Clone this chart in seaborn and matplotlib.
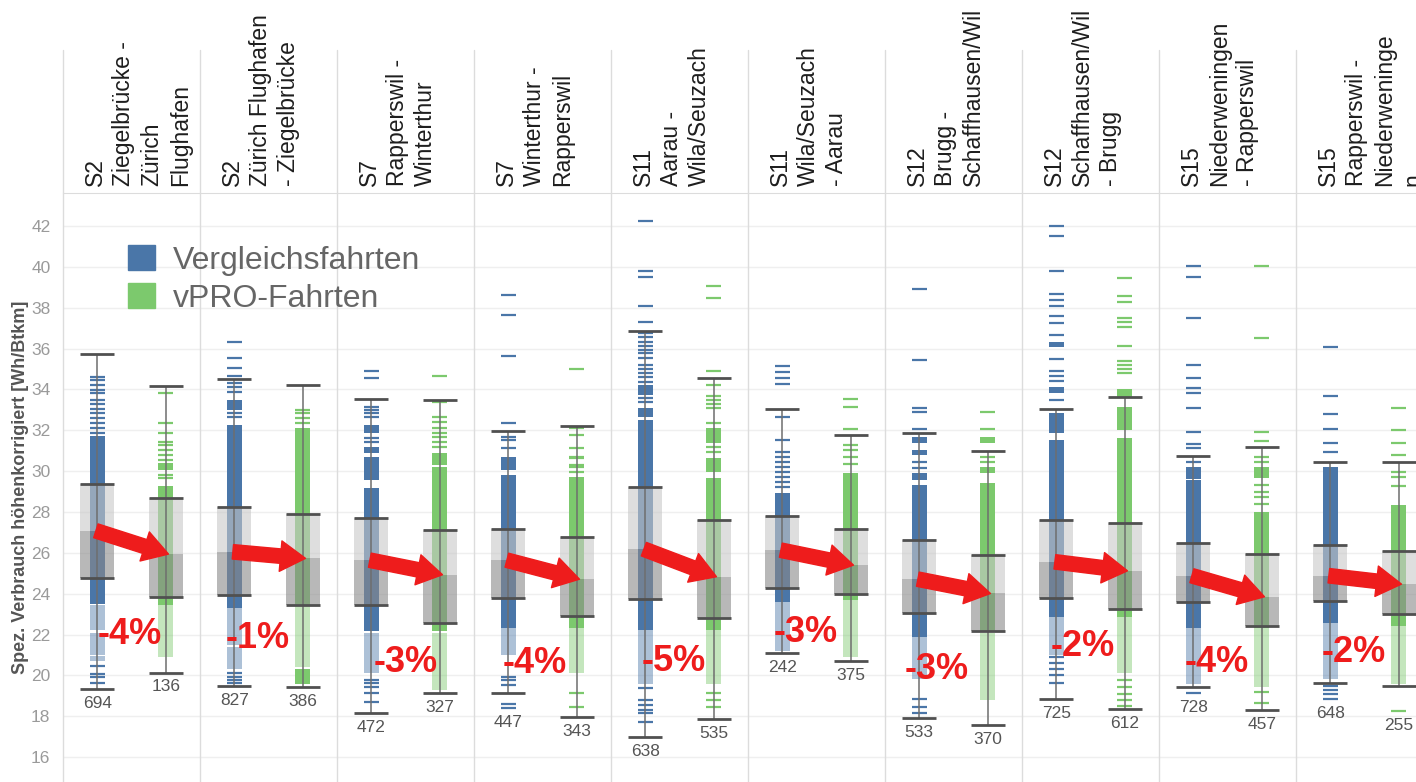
import pandas as pd
import seaborn as sns
import matplotlib.pyplot as plt
from matplotlib.patches import Patch

# Strecken (Spaltenköpfe)
strecken = [
    "S2\nZiegelbrücke -\nZürich\nFlughafen",
    "S2\nZürich Flughafen\n- Ziegelbrücke",
    "S7\nRapperswil -\nWinterthur",
    "S7\nWinterthur -\nRapperswil",
    "S11\nAarau -\nWila/Seuzach",
    "S11\nWila/Seuzach\n- Aarau",
    "S12\nBrugg -\nSchaffhausen/Wil",
    "S12\nSchaffhausen/Wil\n- Brugg",
    "S15\nNiederweningen\n- Rapperswil",
    "S15\nRapperswil -\nNiederweninge\nn",
]
prozent = ["-4%", "-1%", "-3%", "-4%", "-5%", "-3%", "-3%", "-2%", "-4%", "-2%"]

# Vergleichsfahrten: Boxplot-Kennwerte
blau_min = [19.34, 19.47, 18.17, 19.13, 16.99, 21.10, 17.89, 18.85, 19.44, 19.65]
blau_q1 = [24.78, 23.95, 23.47, 23.77, 23.73, 24.26, 23.06, 23.77, 23.61, 23.65]
blau_med = [27.08, 26.05, 25.64, 25.64, 26.18, 26.13, 24.71, 25.56, 24.88, 24.88]
blau_q3 = [29.37, 28.24, 27.69, 27.19, 29.22, 27.80, 26.61, 27.60, 26.46, 26.38]
blau_max = [35.73, 34.49, 33.51, 31.95, 36.86, 33.02, 31.85, 33.04, 30.74, 30.43]
blau_n = [694, 827, 472, 447, 638, 242, 533, 725, 728, 648]

# vPRO-Fahrten: Boxplot-Kennwerte
gruen_min = [20.14, 19.41, 19.15, 17.95, 17.86, 20.71, 17.56, 18.33, 18.30, 19.47]
gruen_q1 = [23.85, 23.45, 22.57, 22.90, 22.83, 23.98, 22.18, 23.24, 22.41, 23.03]
gruen_med = [25.94, 25.73, 24.93, 24.71, 24.83, 25.40, 24.01, 25.12, 23.85, 24.47]
gruen_q3 = [28.68, 27.88, 27.11, 26.77, 27.60, 27.18, 25.89, 27.44, 25.94, 26.10]
gruen_max = [34.18, 34.23, 33.48, 32.21, 34.57, 31.77, 30.97, 33.61, 31.20, 30.43]
gruen_n = [136, 386, 327, 343, 535, 375, 370, 612, 457, 255]

# Einzelfahrten: dichte Bereiche (von, bis), blasse Bereiche, einzelne Striche
blau_dicht = [
    [(23.5, 31.7)],
    [(23.3, 32.26), (33.0, 33.48)],
    [(22.15, 29.2), (29.56, 30.71), (30.88, 31.2), (31.85, 32.26)],
    [(22.3, 29.81), (30.05, 30.70)],
    [(22.2, 32.5), (32.66, 33.07), (33.73, 34.21)],
    [(23.6, 28.92)],
    [(21.9, 29.32), (29.56, 29.9), (30.79, 31.03), (31.36, 31.68)],
    [(22.87, 31.52), (31.85, 32.83), (33.81, 34.13), (36.09, 36.33)],
    [(22.3, 29.56), (29.6, 30.22)],
    [(22.55, 30.22)],
]
blau_blass = [
    [(22.2, 23.45), (21.0, 22.1), (20.7, 20.95)],
    [(21.5, 23.3), (20.3, 21.4)],
    [(20.1, 22.1)],
    [(21.0, 22.3)],
    [(19.6, 22.2)],
    [(21.2, 23.6)],
    [(19.8, 21.9)],
    [(21.0, 22.87)],
    [(19.6, 22.3)],
    [(19.8, 22.55)],
]
blau_striche = [
    [34.59, 34.46, 34.21, 33.97, 33.81, 33.48, 33.28, 33.02, 32.83, 32.58, 32.34, 32.10, 31.88,
     20.45, 20.09, 19.91, 19.61],
    [36.33, 35.52, 35.06, 34.65, 34.30, 34.13, 33.86, 32.83, 32.64, 20.13, 19.94, 19.77, 19.61],
    [34.90, 34.54, 33.15, 32.99, 32.83, 32.64, 31.60, 31.44, 19.77, 19.61, 19.44, 19.12, 18.71],
    [38.64, 37.66, 35.63, 32.34, 31.68, 31.53, 31.12, 19.93, 19.77, 19.52, 18.60, 18.41],
    [42.24, 39.81, 39.52, 38.10, 37.30, 36.75, 36.59, 36.34, 36.15, 35.93, 35.77, 35.52, 35.19,
     34.98, 34.82, 34.62, 34.37, 33.56, 33.40, 19.37, 18.80, 18.55, 18.30, 18.14, 17.73],
    [35.16, 34.86, 34.57, 34.28, 32.64, 31.52, 30.95, 30.71, 30.46, 30.22, 29.98, 29.73, 29.49, 29.24],
    [38.90, 35.42, 33.10, 32.91, 32.04, 30.46, 30.14, 18.86, 18.47, 18.14],
    [42.00, 41.51, 39.80, 38.67, 38.38, 38.08, 37.59, 37.24, 36.65, 35.47, 34.91, 34.66, 34.41,
     33.48, 20.90, 20.60, 20.30, 20.00, 19.64],
    [40.04, 39.52, 37.49, 35.19, 34.57, 34.08, 33.84, 33.07, 31.90, 31.32, 31.13, 30.46, 19.12],
    [36.09, 33.66, 32.78, 32.04, 31.36, 30.95, 19.47, 19.30, 19.10, 18.82],
]

gruen_dicht = [
    [(23.45, 29.27), (30.05, 30.38)],
    [(23.45, 32.1), (19.6, 20.3)],
    [(22.15, 30.22), (30.3, 30.88)],
    [(22.3, 29.7)],
    [(22.2, 29.65), (29.98, 30.63), (31.36, 32.10)],
    [(23.7, 29.9)],
    [(22.15, 29.4), (29.9, 30.22), (31.36, 31.68)],
    [(22.87, 31.6), (32.01, 33.15), (33.64, 34.02)],
    [(22.3, 28.0), (29.65, 30.22)],
    [(22.4, 28.34)],
]
gruen_blass = [
    [(20.9, 23.45)],
    [(20.4, 23.4)],
    [(19.3, 22.1)],
    [(20.1, 22.3)],
    [(19.6, 22.2)],
    [(20.9, 23.7)],
    [(18.8, 22.1)],
    [(20.1, 22.87)],
    [(19.45, 22.3)],
    [(19.6, 22.4)],
]
gruen_striche = [
    [33.81, 32.38, 31.85, 31.44, 31.28, 31.03, 30.79, 30.54, 29.81, 29.66],
    [32.99, 32.83, 32.58, 32.34],
    [34.65, 33.40, 32.64, 32.43, 32.10, 31.88, 31.68, 31.44, 31.20],
    [34.98, 32.10, 31.77, 31.12, 30.70, 30.62, 30.30, 30.22, 29.98, 19.12, 18.47],
    [39.08, 38.46, 34.90, 34.21, 33.68, 33.50, 33.30, 33.07, 32.34, 31.20, 30.95, 19.12, 18.80, 18.47],
    [33.51, 33.15, 32.04, 31.28, 31.03, 30.67, 30.34],
    [32.91, 32.04, 30.71, 30.46],
    [39.44, 38.59, 38.29, 37.51, 37.28, 37.05, 36.12, 35.39, 35.18, 34.98, 34.79,
     19.77, 19.45, 19.10, 18.80, 18.50],
    [40.04, 36.53, 31.93, 31.49, 30.71, 30.46, 29.32, 29.00, 28.75, 28.40, 19.20, 18.63],
    [33.07, 32.03, 31.36, 30.79, 29.98, 29.73, 29.27, 18.26],
]

BLAU = "#4a76a8"
GRUEN = "#7cc96d"
ROT = "#ee1c1c"

sns.set_style("white")
plt.rcParams["font.family"] = ["Liberation Sans", "DejaVu Sans"]

fig = plt.figure(figsize=(14.16, 7.82), dpi=100)
ax = fig.add_axes([63 / 1416, 0, 1353 / 1416, 589 / 782])

# einzelne Striche mit seaborn
zeilen = []
for i in range(len(strecken)):
    for v in blau_striche[i]:
        zeilen.append({"x": i + 0.25, "wert": v, "serie": "Vergleichsfahrten"})
    for v in gruen_striche[i]:
        zeilen.append({"x": i + 0.75, "wert": v, "serie": "vPRO-Fahrten"})
df = pd.DataFrame(zeilen)
sns.scatterplot(data=df, x="x", y="wert", hue="serie", marker="_", s=120, linewidth=1.6,
                palette={"Vergleichsfahrten": BLAU, "vPRO-Fahrten": GRUEN},
                legend=False, ax=ax, zorder=2)

for i in range(len(strecken)):
    for pos, dicht, blass, farbe in [(i + 0.25, blau_dicht[i], blau_blass[i], BLAU),
                                     (i + 0.75, gruen_dicht[i], gruen_blass[i], GRUEN)]:
        for lo, hi in dicht:
            ax.bar(pos, hi - lo, bottom=lo, width=0.11, color=farbe, linewidth=0, zorder=2)
        for lo, hi in blass:
            ax.bar(pos, hi - lo, bottom=lo, width=0.11, color=farbe, alpha=0.45, linewidth=0, zorder=2)

    stats = [(i + 0.25, blau_min[i], blau_q1[i], blau_med[i], blau_q3[i], blau_max[i], blau_n[i],
              blau_striche[i]),
             (i + 0.75, gruen_min[i], gruen_q1[i], gruen_med[i], gruen_q3[i], gruen_max[i], gruen_n[i],
              gruen_striche[i])]
    for pos, mn, q1, med, q3, mx, n, striche in stats:
        ax.vlines(pos, mn, mx, color="#6e6e6e", lw=1.1, zorder=3.5)
        ax.bar(pos, q3 - med, bottom=med, width=0.25, color="#c8c8c8", alpha=0.6, linewidth=0, zorder=3)
        ax.bar(pos, med - q1, bottom=q1, width=0.25, color="#8a8a8a", alpha=0.6, linewidth=0, zorder=3)
        ax.hlines([mn, q1, q3, mx], pos - 0.125, pos + 0.125, color="#505050", lw=2, zorder=4)
        unten = min([mn] + striche)
        ax.text(pos, unten - 0.7, str(n), ha="center", va="center", fontsize=12.5, color="#555555")

    # Pfeil vom Median der Vergleichsfahrten zum Median der vPRO-Fahrten
    ax.annotate("", xy=(i + 0.77, gruen_med[i]), xytext=(i + 0.24, blau_med[i]),
                arrowprops=dict(arrowstyle="simple,head_length=0.45,head_width=0.55,tail_width=0.26",
                                color=ROT, mutation_scale=40, shrinkA=0, shrinkB=0),
                zorder=5)

pct_x = [0.49, 0.42, 0.50, 0.44, 0.46, 0.42, 0.38, 0.44, 0.42, 0.42]
pct_y = [22.0, 21.8, 20.65, 20.6, 20.7, 22.1, 20.3, 21.4, 20.65, 21.1]
for i, txt in enumerate(prozent):
    ax.text(i + pct_x[i], pct_y[i], txt, ha="center", va="center", fontsize=26,
            fontweight="bold", color=ROT, zorder=6)

# Spaltenköpfe und Trennlinien
for i, name in enumerate(strecken):
    ax.text(i + 0.15, 1.012, name, transform=ax.get_xaxis_transform(), rotation=90,
            ha="left", va="bottom", multialignment="left", fontsize=16.5, linespacing=1.3,
            color="#1e1e1e", clip_on=False)
    ax.axvline(i, ymin=0, ymax=1.243, color="#dcdcdc", lw=1, clip_on=False, zorder=1)

ax.set_xlim(0, 9.876)
ax.set_ylim(14.78, 43.62)
ax.set_yticks(range(16, 43, 2))
ax.set_xticks([])
ax.set_xlabel("")
ax.grid(axis="y", color="#efefef", lw=1)
ax.tick_params(axis="y", length=0, pad=9, labelsize=12.5, labelcolor="#9a9a9a")
for s in ["right", "bottom", "left"]:
    ax.spines[s].set_visible(False)
ax.spines["top"].set_color("#dcdcdc")
ax.set_ylabel("Spez. Verbrauch höhenkorrigiert [Wh/Btkm]", fontsize=13, fontweight="bold",
              color="#555555")
ax.yaxis.set_label_coords(-0.025, 0.5)

handles = [Patch(color=BLAU, label="Vergleichsfahrten"), Patch(color=GRUEN, label="vPRO-Fahrten")]
ax.legend(handles=handles, loc="upper left", bbox_to_anchor=(65 / 1353, 1 - 52 / 589),
          frameon=False, fontsize=23, handlelength=0.85, handleheight=0.85, handletextpad=0.55,
          labelspacing=0.22, borderaxespad=0, borderpad=0, labelcolor="#666666")

fig.savefig("out.png", dpi=100)
